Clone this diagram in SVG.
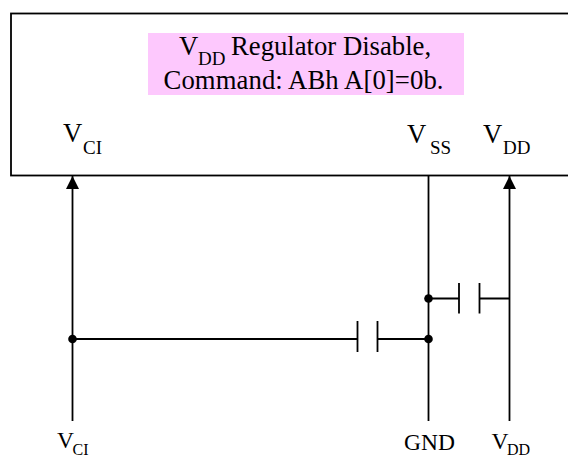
<svg xmlns="http://www.w3.org/2000/svg" width="568" height="457" viewBox="0 0 568 457">
<style>
text{font-family:"Liberation Serif","Times New Roman",serif;fill:#000}
.m{font-size:26.700px}.s{font-size:19px}.b{font-size:23.500px}.bs{font-size:16px}
.w{fill:none;stroke:#000;stroke-width:1.800}
</style>
<defs><marker id="a" markerUnits="userSpaceOnUse" markerWidth="14" markerHeight="14" refX="13" refY="7" orient="auto"><path d="M0,0.500L13,7L0,13.500Z" fill="#000"/></marker></defs>
<rect width="568" height="457" fill="#fff"/>
<g id="chip">
<rect x="11" y="13.500" width="560" height="162" fill="#fff" stroke="#000" stroke-width="1.800"/>
<rect x="148" y="33" width="316" height="62" fill="#fdc8fd"/>
<text x="179" y="55" class="m">V</text><text x="198" y="65" class="s">DD</text>
<text x="231" y="55" class="m">Regulator Disable,</text>
<text x="163.500" y="89" class="m" textLength="280">Command: ABh A[0]=0b.</text>
<text x="63" y="142" class="m">V</text><text x="83" y="154" class="s">CI</text>
<text x="407" y="143" class="m">V</text><text x="430" y="154" class="s">SS</text>
<text x="483" y="143" class="m">V</text><text x="503" y="154" class="s">DD</text>
</g>
<g id="connectors">
<path class="w" d="M72.500,421V176" marker-end="url(#a)"/>
<path class="w" d="M509.500,421V176" marker-end="url(#a)"/>
<path class="w" d="M428.500,176V421"/>
<path class="w" d="M72.500,339H357.500M377.500,339H428.500"/>
<path class="w" d="M428.500,298.500H459M479.500,298.500H509.500"/>
<path class="w" d="M357.500,321V352M377.500,321V352M459,283V313.500M479.500,283V313.500"/>
<circle cx="72.500" cy="339" r="4.300"/><circle cx="428.500" cy="339" r="4.300"/><circle cx="428.500" cy="298.500" r="4.300"/>
</g>
<g id="labels">
<text x="57" y="448" class="b">V</text><text x="72.500" y="455" class="bs">CI</text>
<text x="404" y="450" class="b">GND</text>
<text x="491.500" y="449" class="b">V</text><text x="507" y="455" class="bs">DD</text>
</g>
</svg>
